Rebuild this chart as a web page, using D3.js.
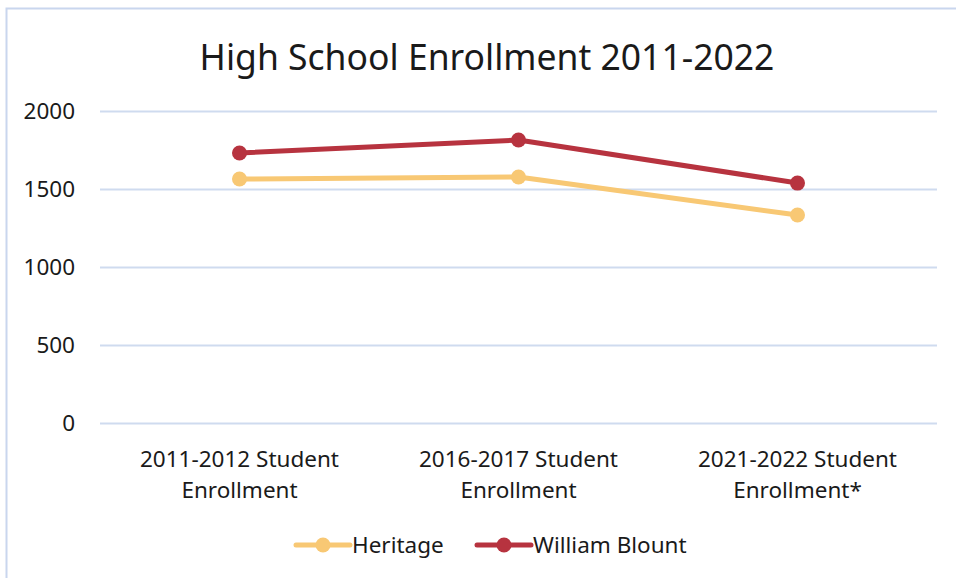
<!DOCTYPE html>
<html>
<head>
<meta charset="utf-8">
<script src="https://cdn.jsdelivr.net/npm/d3@7"></script>
<style>
  body { margin: 0; background: #fff; }
  text { font-family: "Noto Sans", "Open Sans", sans-serif; fill: #1a1a1a; }
</style>
</head>
<body>
<svg id="chart" width="956" height="578"></svg>
<script>
// data
const categories = ["2011-2012 Student Enrollment", "2016-2017 Student Enrollment", "2021-2022 Student Enrollment*"];
const categoryLines = [["2011-2012 Student", "Enrollment"], ["2016-2017 Student", "Enrollment"], ["2021-2022 Student", "Enrollment*"]];
const heritage = [1564, 1577, 1333];
const williamBlount = [1731, 1814, 1538];
const yTicks = [0, 500, 1000, 1500, 2000];
const seriesNames = ["Heritage", "William Blount"];

const series = [
    { name: seriesNames[0], values: heritage, color: "#F8C874" },
    { name: seriesNames[1], values: williamBlount, color: "#B7333F" }
];

let svg = d3.select("#chart");

// outer frame (right and bottom edges run off the picture)
svg.append("rect")
    .attr("x", 6.5).attr("y", 8.5)
    .attr("width", 1000).attr("height", 1000)
    .attr("fill", "none")
    .attr("stroke", "#C9D6EE")
    .attr("stroke-width", 2);

let plotLeft = 100, plotRight = 937, plotTop = 111, plotBottom = 423;
let labelSize = "22.5px";

let xScale = d3.scalePoint()
    .domain(categories)
    .range([plotLeft, plotRight])
    .padding(0.5);

let yScale = d3.scaleLinear()
    .domain([0, 2000])
    .range([plotBottom, plotTop]);

// title
svg.append("text")
    .attr("x", 487).attr("y", 70)
    .attr("text-anchor", "middle")
    .style("font-size", "35.5px")
    .text("High School Enrollment 2011-2022");

// gridlines + y labels
let yAxis = d3.axisLeft(yScale)
    .tickValues(yTicks)
    .tickFormat(d3.format("d"))
    .tickSize(-(plotRight - plotLeft))
    .tickPadding(25);

let gY = svg.append("g")
    .attr("transform", "translate(" + plotLeft + ",0)")
    .call(yAxis);
gY.select(".domain").remove();
gY.selectAll("line").attr("stroke", "#CFDBEF").attr("stroke-width", 2);
gY.selectAll("text")
    .style("font-size", labelSize)
    .attr("fill", "#1a1a1a")
    .attr("font-family", null);

// x labels, two lines each
let gX = svg.append("g");
categories.forEach(function(c, i) {
    let t = gX.append("text")
        .attr("x", xScale(c))
        .attr("y", 467)
        .attr("text-anchor", "middle")
        .style("font-size", labelSize);
    categoryLines[i].forEach(function(line, j) {
        t.append("tspan")
            .attr("x", xScale(c))
            .attr("dy", j === 0 ? 0 : 31)
            .text(line);
    });
});

// lines and markers
let line = d3.line()
    .x((d, i) => xScale(categories[i]))
    .y(d => yScale(d));

series.forEach(function(s) {
    svg.append("path")
        .datum(s.values)
        .attr("d", line)
        .attr("fill", "none")
        .attr("stroke", s.color)
        .attr("stroke-width", 5)
        .attr("stroke-linejoin", "round");
    svg.selectAll(null)
        .data(s.values)
        .enter()
        .append("circle")
        .attr("cx", (d, i) => xScale(categories[i]))
        .attr("cy", d => yScale(d))
        .attr("r", 7.5)
        .attr("fill", s.color);
});

// legend
let legendX = [296, 477];
series.forEach(function(s, i) {
    let g = svg.append("g").attr("transform", "translate(" + legendX[i] + ",545)");
    g.append("line")
        .attr("x1", 0).attr("x2", 54)
        .attr("stroke", s.color)
        .attr("stroke-width", 5)
        .attr("stroke-linecap", "round");
    g.append("circle").attr("cx", 27).attr("r", 7.5).attr("fill", s.color);
    g.append("text")
        .attr("x", 56).attr("y", 8)
        .style("font-size", labelSize)
        .text(s.name);
});
</script>
</body>
</html>
